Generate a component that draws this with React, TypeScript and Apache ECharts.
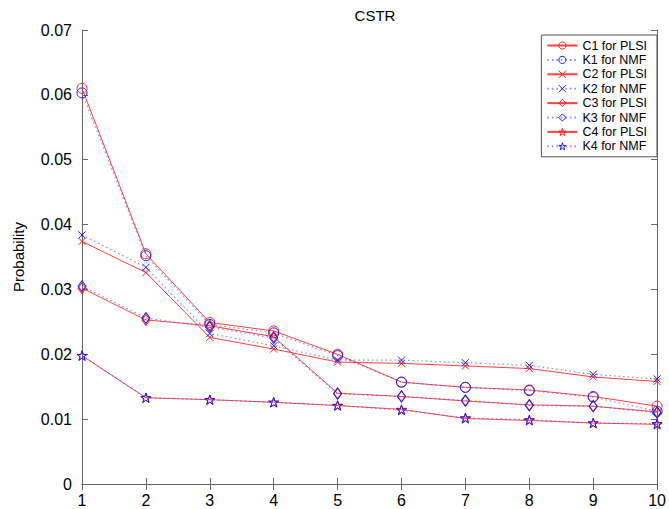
import React, { useEffect, useRef } from "react";
import * as echarts from "echarts";

const xValues = [1, 2, 3, 4, 5, 6, 7, 8, 9, 10];
const C1 = [0.061, 0.0355, 0.0249, 0.0236, 0.02, 0.0157, 0.0149, 0.0145, 0.0135, 0.012];
const K1 = [0.0603, 0.0352, 0.0246, 0.0233, 0.0198, 0.0157, 0.0149, 0.0144, 0.0134, 0.0112];
const C2 = [0.0374, 0.0326, 0.0226, 0.0208, 0.0188, 0.0186, 0.0182, 0.0178, 0.0165, 0.0158];
const K2 = [0.0384, 0.0334, 0.0232, 0.0213, 0.0191, 0.0191, 0.0187, 0.0183, 0.0169, 0.0162];
const C3 = [0.0302, 0.0253, 0.0244, 0.0227, 0.014, 0.0135, 0.0128, 0.0122, 0.012, 0.0111];
const K3 = [0.0305, 0.0256, 0.0242, 0.0225, 0.0139, 0.0135, 0.0129, 0.0121, 0.012, 0.011];
const C4 = [0.0198, 0.0133, 0.013, 0.0126, 0.0121, 0.0115, 0.0101, 0.0098, 0.0094, 0.0092];
const K4 = [0.0198, 0.0133, 0.013, 0.0126, 0.0121, 0.0114, 0.0102, 0.0099, 0.0094, 0.0093];

const seriesNames = [
  "C1 for PLSI", "K1 for NMF", "C2 for PLSI", "K2 for NMF",
  "C3 for PLSI", "K3 for NMF", "C4 for PLSI", "K4 for NMF",
];
const seriesData = [C1, K1, C2, K2, C3, K3, C4, K4];

const RED = "#ff2020";
const BLUE = "#1a1aff";
const BLUE_LINE = "#5a5aff";

const X_PATH = "path://M0,0L10,10M10,0L0,10";
const STAR_PATH =
  "path://M50,2L61.2,36.5L97.6,36.5L68.2,57.9L79.4,92.5L50,71.1L20.6,92.5L31.8,57.9L2.4,36.5L38.8,36.5Z";

const symbols = ["circle", "circle", X_PATH, X_PATH, "diamond", "diamond", STAR_PATH, STAR_PATH];
const symbolSizes: any[] = [10, 10, 7, 7, [8, 11], [8, 11], 10, 10];

const FONT = "Liberation Sans, Arial, Helvetica, sans-serif";

export default function App() {
  const ref = useRef<HTMLDivElement>(null);
  useEffect(() => {
    if (!ref.current) return;
    const chart = echarts.init(ref.current, null, { renderer: "svg" });
    const series = seriesNames.map((name, i) => {
      const plsi = i % 2 === 0;
      const col = plsi ? RED : BLUE;
      return {
        name,
        type: "line",
        data: xValues.map((x, j) => [x, seriesData[i][j]]),
        symbol: symbols[i],
        symbolSize: symbolSizes[i],
        symbolKeepAspect: true,
        showSymbol: true,
        lineStyle: {
          color: plsi ? RED : BLUE_LINE,
          width: plsi ? 1 : 1.2,
          type: plsi ? "solid" : [1.5, 3],
          opacity: plsi ? 0.85 : 0.7,
        },
        itemStyle: { color: "rgba(0,0,0,0)", borderColor: col, borderWidth: 1 },
        emphasis: { disabled: true },
        z: 2 + i,
      };
    });
    const legendData = seriesNames.map((name, i) => {
      const plsi = i % 2 === 0;
      return {
        name,
        itemStyle: {
          color: "rgba(0,0,0,0)",
          borderColor: plsi ? RED : BLUE,
          borderWidth: 1,
        },
      };
    });
    const axisLine = { show: true, lineStyle: { color: "#666", width: 1 } };
    chart.setOption({
      animation: false,
      backgroundColor: "#fff",
      title: {
        text: "CSTR",
        left: 370,
        top: 3,
        textAlign: "center",
        textStyle: { fontFamily: FONT, fontSize: 15, fontWeight: "normal", color: "#000" },
      },
      legend: {
        orient: "vertical",
        right: 12,
        top: 35,
        data: legendData,
        backgroundColor: "#fff",
        borderColor: "#555",
        borderWidth: 1,
        borderRadius: 0,
        padding: [4, 10, 4, 5],
        itemWidth: 30,
        itemHeight: 9,
        itemGap: 1.4,
        textStyle: { fontFamily: FONT, fontSize: 12.5, color: "#000" },
        selectedMode: false,
      },
      grid: { left: 82, right: 10, top: 30, bottom: 25 },
      xAxis: [
        {
          type: "value",
          min: 1,
          max: 10,
          interval: 1,
          axisLine,
          axisTick: { show: true, inside: true, length: 6, lineStyle: { color: "#666" } },
          axisLabel: { fontFamily: FONT, fontSize: 16, color: "#000", margin: 8 },
          splitLine: { show: false },
        },
        {
          type: "value",
          position: "top",
          min: 1,
          max: 10,
          interval: 1,
          axisLine,
          axisTick: { show: true, inside: true, length: 6, lineStyle: { color: "#666" } },
          axisLabel: { show: false },
          splitLine: { show: false },
        },
      ],
      yAxis: [
        {
          type: "value",
          min: 0,
          max: 0.07,
          interval: 0.01,
          name: "Probability",
          nameLocation: "middle",
          nameGap: 56,
          nameTextStyle: { fontFamily: FONT, fontSize: 15, color: "#000" },
          axisLine,
          axisTick: { show: true, inside: true, length: 6, lineStyle: { color: "#666" } },
          axisLabel: {
            fontFamily: FONT,
            fontSize: 16,
            color: "#000",
            margin: 10,
            formatter: (v: number) => (v === 0 ? "0" : v.toFixed(2)),
          },
          splitLine: { show: false },
        },
        {
          type: "value",
          position: "right",
          min: 0,
          max: 0.07,
          interval: 0.01,
          axisLine,
          axisTick: { show: true, inside: true, length: 6, lineStyle: { color: "#666" } },
          axisLabel: { show: false },
          splitLine: { show: false },
        },
      ],
      series,
    });
    return () => chart.dispose();
  }, []);
  return (
    <div
      ref={ref}
      style={{ position: "absolute", left: 0, top: 0, width: 669, height: 509 }}
    />
  );
}
